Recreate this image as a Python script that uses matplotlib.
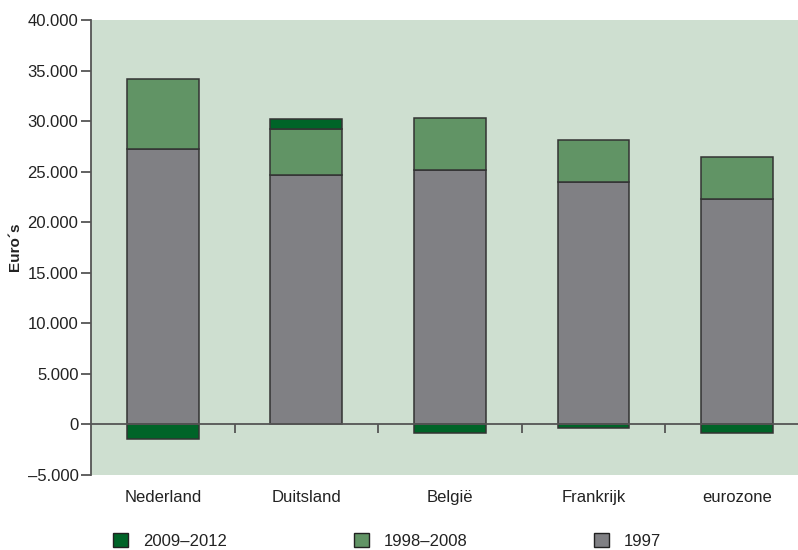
import matplotlib
matplotlib.use('Agg')
import matplotlib.pyplot as plt
import numpy as np

plt.rcParams['font.family'] = ['Liberation Sans', 'DejaVu Sans']

landen = ['Nederland', 'Duitsland', 'België', 'Frankrijk', 'eurozone']
reeksen = ['2009\u20132012', '1998\u20132008', '1997']
v1997 = [27250, 24650, 25150, 24000, 22250]
v9808 = [6950, 4600, 5200, 4100, 4200]
v0912 = [-1450, 950, -800, -350, -800]
yticks = [-5000, 0, 5000, 10000, 15000, 20000, 25000, 30000, 35000, 40000]

c_grijs = '#808084'
c_groen = '#619465'
c_donker = '#006428'
c_rand = '#333333'
c_bg = '#CEDFD0'

fig = plt.figure(figsize=(7.98, 5.5), dpi=100)
ax = fig.add_axes([91 / 798, 75 / 550, 707 / 798, 455 / 550])
ax.set_facecolor(c_bg)

x = np.arange(len(landen))
w = 0.5
a = np.array(v1997)
b = np.array(v9808)
c = np.array(v0912)

ax.bar(x, a, w, color=c_grijs, edgecolor=c_rand, lw=1.1, zorder=3)
ax.bar(x, b, w, bottom=a, color=c_groen, edgecolor=c_rand, lw=1.1, zorder=3)
# positive 2009-2012 stacks on top, negative hangs below zero
ax.bar(x, c, w, bottom=np.where(c > 0, a + b, 0), color=c_donker,
       edgecolor=c_rand, lw=1.1, zorder=3)

ax.axhline(0, color='#555555', lw=1.3, zorder=4)
ax.vlines(x[:-1] + 0.5, -850, 0, color='#555555', lw=1.3, zorder=4)

ax.set_xlim(-0.5, 4.425)
ax.set_ylim(-5000, 40000)
ax.set_yticks(yticks)
ax.set_yticklabels([f'{v:,}'.replace(',', '.').replace('-', '\u2013') for v in yticks])
ax.set_xticks(x)
ax.set_xticklabels(landen)
ax.tick_params(axis='x', length=0, pad=11, labelsize=12, colors='#222222')
ax.tick_params(axis='y', length=7, width=1.3, color='#555555', pad=2,
               labelsize=12, labelcolor='#222222')

for s in ['top', 'right', 'bottom']:
    ax.spines[s].set_visible(False)
ax.spines['left'].set_color('#555555')
ax.spines['left'].set_linewidth(1.3)

fig.text(15.5 / 798, 1 - 247 / 550, 'Euro\u00b4s', rotation=90, ha='center',
         va='center', fontsize=11, fontweight='bold', color='#222222')

kleuren = [c_donker, c_groen, c_grijs]
handles = [plt.Rectangle((0, 0), 1, 1, facecolor=k, edgecolor='#222222', lw=1)
           for k in kleuren]
fig.legend(handles, reeksen, ncol=3, loc='center left',
           bbox_to_anchor=(113 / 798, 1 - 541 / 550), frameon=False,
           fontsize=12, borderpad=0, borderaxespad=0, handlelength=0.9,
           handleheight=0.95, handletextpad=0.9, columnspacing=7.6,
           labelcolor='#222222')

fig.savefig('out.png', dpi=100)
